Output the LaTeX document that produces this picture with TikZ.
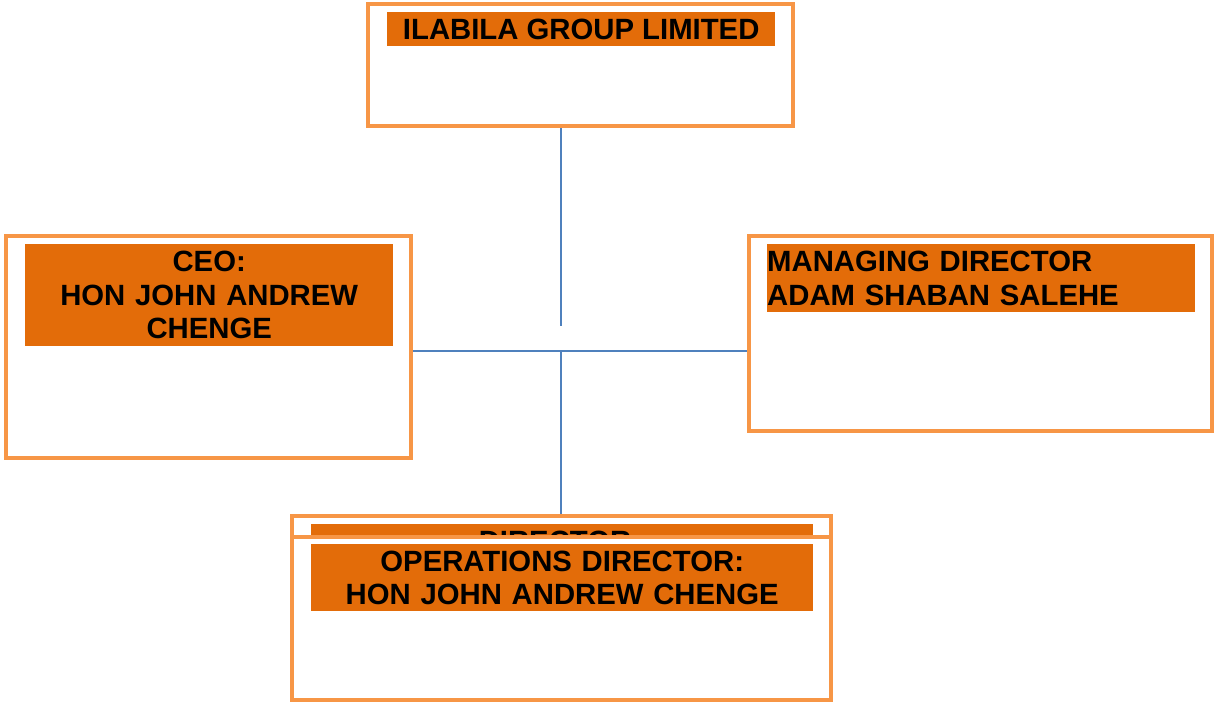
\documentclass[tikz,border=0pt]{standalone}
\usepackage{fontspec}
\setmainfont{Liberation Sans}
\definecolor{boxline}{HTML}{F79646}
\definecolor{banner}{HTML}{E36C09}
\definecolor{conn}{HTML}{4F81BD}
\tikzset{
  orgbox/.style={draw=boxline, line width=4pt, fill=white, inner sep=0pt, anchor=north west},
  bannerbox/.style={fill=banner, inner sep=0pt, anchor=north west, font=\fontsize{29.3}{33.5}\selectfont\bfseries},
  conline/.style={draw=conn, line width=1.8pt}
}
\begin{document}
\begin{tikzpicture}[x=1pt,y=-1pt]
\useasboundingbox (0,0) rectangle (1216,704);
% top
\node[orgbox, minimum width=425pt, minimum height=122pt] (top) at (366,2) {};
\node[bannerbox, minimum width=388pt, minimum height=34pt] (topb) at (387,12) {ILABILA GROUP LIMITED};
% CEO
\node[orgbox, minimum width=405pt, minimum height=222pt] (ceo) at (4,234) {};
\node[bannerbox, minimum width=368pt, minimum height=102pt, text width=368pt, align=center] (ceob) at (25,244) {CEO:\\ HON JOHN ANDREW\\ CHENGE};
% MD
\node[orgbox, minimum width=463pt, minimum height=195pt] (md) at (747,234) {};
\node[bannerbox, minimum width=428pt, minimum height=68pt, text width=428pt, align=left] (mdb) at (767,244) {MANAGING DIRECTOR\\ADAM SHABAN SALEHE};
% back bottom box
\node[orgbox, minimum width=539pt, minimum height=184pt] (back) at (290,514) {};
\node[bannerbox, minimum width=502pt, minimum height=40pt] (backb) at (311,524) {};
\node[font=\fontsize{29.3}{33.5}\selectfont\bfseries, anchor=base, inner sep=0pt] (backt) at (555,551) {DIRECTOR};
% front bottom box
\node[orgbox, minimum width=539pt, minimum height=163pt] (ops) at (290,535) {};
\node[bannerbox, minimum width=502pt, minimum height=67pt, text width=502pt, align=center] (opsb) at (311,544) {OPERATIONS DIRECTOR:\\ HON JOHN ANDREW CHENGE};
% connectors
\coordinate (vend) at (561,326);
\coordinate (hub) at (561,351);
\draw[conline] (top.south -| vend) -- (vend);
\draw[conline] (ceo.east |- hub) -- (md.west |- hub);
\draw[conline] (hub) -- (hub |- back.north);
\end{tikzpicture}
\end{document}
